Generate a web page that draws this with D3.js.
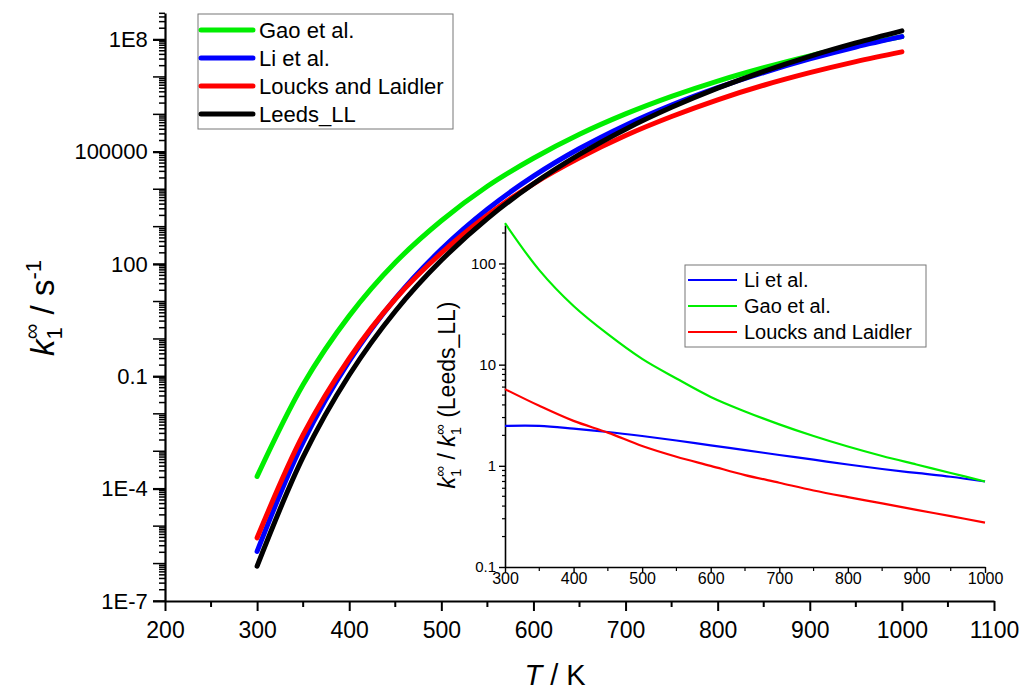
<!DOCTYPE html>
<html>
<head>
<meta charset="utf-8">
<script src="https://cdn.jsdelivr.net/npm/d3@7"></script>
<style>
body { margin: 0; background: #fff; }
text { font-family: "Liberation Sans", Arial, sans-serif; }
</style>
</head>
<body>
<svg id="main" width="1025" height="691"></svg>
<script>
// temperatures (K)
var temps = [300, 350, 400, 450, 500, 550, 600, 650, 700, 750, 800, 850, 900, 950, 1000];
// main panel: k1 (s-1)
var gao = [2.13e-4, 0.0607, 4.14, 110, 1436, 12000, 6.72e4, 2.94e5, 1.03e6, 3.03e6, 7.75e6, 1.76e7, 3.66e7, 6.88e7, 1.19e8];
var li = [2.11e-6, 1.75e-3, 0.254, 11.9, 248, 2926, 2.23e4, 1.22e5, 5.15e5, 1.77e6, 5.15e6, 1.31e7, 3.02e7, 6.31e7, 1.19e8];
var loucks = [4.87e-6, 2.77e-3, 0.303, 11.7, 198, 2022, 1.40e4, 6.91e4, 2.73e5, 8.78e5, 2.45e6, 5.99e6, 1.30e7, 2.57e7, 4.68e7];
var leeds = [8.5e-7, 7.06e-4, 0.109, 5.5, 126, 1644, 1.40e4, 8.53e4, 4.02e5, 1.54e6, 5.0e6, 1.41e7, 3.55e7, 8.09e7, 1.70e8];
// inset: ratio to Leeds_LL
var ratioLi = [2.48, 2.48, 2.33, 2.16, 1.97, 1.78, 1.59, 1.43, 1.28, 1.15, 1.03, 0.93, 0.85, 0.78, 0.70];
var ratioGao = [250, 86, 38, 20, 11.4, 7.3, 4.8, 3.45, 2.57, 1.97, 1.55, 1.25, 1.03, 0.85, 0.70];
var ratioLoucks = [5.73, 3.92, 2.78, 2.13, 1.57, 1.23, 1.0, 0.81, 0.68, 0.57, 0.49, 0.425, 0.367, 0.318, 0.275];

var mainTicksX = [200, 300, 400, 500, 600, 700, 800, 900, 1000, 1100];
var mainTicksY = [1e-7, 1e-4, 0.1, 100, 1e5, 1e8];
var mainTickLabelsY = ["1E-7", "1E-4", "0.1", "100", "100000", "1E8"];
var insetTicksX = [300, 400, 500, 600, 700, 800, 900, 1000];
var insetTicksY = [0.1, 1, 10, 100];

var svg = d3.select("#main");

var x = d3.scaleLinear().domain([200, 1100]).range([165, 994]);
var y = d3.scaleLog().domain([1e-7, 5.1e8]).range([601, 13]);

var xi = d3.scaleLinear().domain([300, 1000]).range([505, 985]);
var yi = d3.scaleLog().domain([0.1, 240]).range([567, 225]);

// ---- main axes
var gx = svg.append("g").attr("transform", "translate(0,601)");
gx.call(d3.axisBottom(x).tickValues(mainTicksX).tickSize(10).tickSizeOuter(0).tickFormat(d3.format("d")));
gx.append("g").selectAll("line").data(d3.range(250, 1100, 100)).join("line")
	.attr("x1", d => x(d)).attr("x2", d => x(d)).attr("y1", 0).attr("y2", 6).attr("stroke", "#000").attr("stroke-width", 2);
gx.select(".domain").attr("stroke-width", 2.2);
gx.selectAll(".tick line").attr("stroke-width", 2);
gx.selectAll(".tick text").attr("font-size", 23).attr("font-family", "Liberation Sans").attr("dy", "1.05em");

var gy = svg.append("g").attr("transform", "translate(165,0)");
gy.call(d3.axisLeft(y).tickValues(mainTicksY).tickSize(12).tickSizeOuter(0)
	.tickFormat((d, i) => mainTickLabelsY[i]));
var minorY = [];
for (var e = -7; e <= 8; e++) {
	for (var m = 1; m <= 9; m++) {
		var v = m * Math.pow(10, e);
		if (v <= 5.1e8) minorY.push({v: v, len: m == 1 ? 12 : 6});
	}
}
gy.append("g").selectAll("line").data(minorY).join("line")
	.attr("x1", 0).attr("x2", d => -d.len).attr("y1", d => y(d.v)).attr("y2", d => y(d.v)).attr("stroke", "#000").attr("stroke-width", 1.5);
gy.select(".domain").attr("stroke-width", 2.2);
gy.selectAll(".tick line").attr("stroke-width", 2);
gy.selectAll(".tick text").attr("font-size", 22).attr("font-family", "Liberation Sans").attr("dx", "-0.1em");

// axis titles
var yt = svg.append("text").attr("transform", "translate(54,308) rotate(-90)").attr("text-anchor", "middle").attr("font-size", 33).attr("fill", "#000");
yt.append("tspan").attr("font-style", "italic").text("k");
yt.append("tspan").attr("font-size", 22).attr("dy", 8).text("1");
yt.append("tspan").attr("font-size", 22).attr("dx", -12).attr("dy", -23).text("\u221E");
yt.append("tspan").attr("dy", 15).text(" / s");
yt.append("tspan").attr("font-size", 22).attr("dy", -13).text("-1");

var xt = svg.append("text").attr("x", 555).attr("y", 685).attr("text-anchor", "middle").attr("font-size", 29).attr("fill", "#000");
xt.append("tspan").attr("font-style", "italic").text("T");
xt.append("tspan").text(" / K");

// ---- main curves
var mainSeries = [
	{name: "Gao et al.", color: "#00ee00", vals: gao},
	{name: "Li et al.", color: "#0000ff", vals: li},
	{name: "Loucks and Laidler", color: "#ff0000", vals: loucks},
	{name: "Leeds_LL", color: "#000000", vals: leeds}
];
var line = d3.line().x(d => x(d[0])).y(d => y(d[1])).curve(d3.curveCatmullRom);
svg.append("g").selectAll("path").data(mainSeries).join("path")
	.attr("d", s => line(temps.map((t, i) => [t, s.vals[i]])))
	.attr("fill", "none").attr("stroke", s => s.color).attr("stroke-width", 5).attr("stroke-linecap", "round");

// main legend
var leg = svg.append("g");
leg.append("rect").attr("x", 198).attr("y", 14).attr("width", 255).attr("height", 115).attr("fill", "#fff").attr("stroke", "#777").attr("stroke-width", 1);
mainSeries.forEach(function(s, i) {
	var yy = 30 + i * 28;
	leg.append("line").attr("x1", 201).attr("x2", 253).attr("y1", yy).attr("y2", yy).attr("stroke", s.color).attr("stroke-width", 5).attr("stroke-linecap", "round");
	leg.append("text").attr("x", 259).attr("y", yy + 8).attr("font-size", 22).text(s.name);
});

// ---- inset
var ix = svg.append("g").attr("transform", "translate(0,567)");
ix.call(d3.axisBottom(xi).tickValues(insetTicksX).tickSize(6).tickSizeOuter(0).tickFormat(d3.format("d")));
ix.append("g").selectAll("line").data(d3.range(350, 1000, 100)).join("line")
	.attr("x1", d => xi(d)).attr("x2", d => xi(d)).attr("y1", 0).attr("y2", 4).attr("stroke", "#000").attr("stroke-width", 1.2);
ix.select(".domain").attr("stroke-width", 1.6);
ix.selectAll(".tick line").attr("stroke-width", 1.4);
ix.selectAll(".tick text").attr("font-size", 16).attr("font-family", "Liberation Sans").attr("dy", "0.5em");

var iy = svg.append("g").attr("transform", "translate(505,0)");
iy.call(d3.axisLeft(yi).tickValues(insetTicksY).tickSize(6).tickSizeOuter(0).tickFormat(d3.format("~g")));
var minorYi = [];
for (var e2 = -1; e2 <= 2; e2++) {
	for (var m2 = 2; m2 <= 9; m2++) {
		var v2 = m2 * Math.pow(10, e2);
		if (v2 <= 240) minorYi.push(v2);
	}
}
iy.append("g").selectAll("line").data(minorYi).join("line")
	.attr("x1", 0).attr("x2", -3).attr("y1", d => yi(d)).attr("y2", d => yi(d)).attr("stroke", "#000").attr("stroke-width", 1.2);
iy.select(".domain").attr("stroke-width", 1.6);
iy.selectAll(".tick line").attr("stroke-width", 1.4);
iy.selectAll(".tick text").attr("font-size", 15).attr("font-family", "Liberation Sans");

var it = svg.append("text").attr("transform", "translate(455,395) rotate(-90)").attr("text-anchor", "middle").attr("font-size", 23).attr("fill", "#000");
it.append("tspan").attr("font-style", "italic").text("k");
it.append("tspan").attr("font-size", 15).attr("dy", 6).text("1");
it.append("tspan").attr("font-size", 15).attr("dx", -8).attr("dy", -16).text("\u221E");
it.append("tspan").attr("dy", 10).text(" / ");
it.append("tspan").attr("font-style", "italic").text("k");
it.append("tspan").attr("font-size", 15).attr("dy", 6).text("1");
it.append("tspan").attr("font-size", 15).attr("dx", -8).attr("dy", -16).text("\u221E");
it.append("tspan").attr("dy", 10).text(" (Leeds_LL)");

var insetSeries = [
	{name: "Li et al.", color: "#0000ff", vals: ratioLi},
	{name: "Gao et al.", color: "#00ee00", vals: ratioGao},
	{name: "Loucks and Laidler", color: "#ff0000", vals: ratioLoucks}
];
var iline = d3.line().x(d => xi(d[0])).y(d => yi(d[1])).curve(d3.curveCatmullRom);
svg.append("g").selectAll("path").data(insetSeries).join("path")
	.attr("d", s => iline(temps.map((t, i) => [t, s.vals[i]])))
	.attr("fill", "none").attr("stroke", s => s.color).attr("stroke-width", 2.2);

var ileg = svg.append("g");
ileg.append("rect").attr("x", 685).attr("y", 265).attr("width", 241).attr("height", 82).attr("fill", "#fff").attr("stroke", "#777").attr("stroke-width", 1);
insetSeries.forEach(function(s, i) {
	var yy = 280 + i * 26;
	ileg.append("line").attr("x1", 688).attr("x2", 737).attr("y1", yy).attr("y2", yy).attr("stroke", s.color).attr("stroke-width", 2.2);
	ileg.append("text").attr("x", 744).attr("y", yy + 7).attr("font-size", 20).text(s.name);
});
</script>
</body>
</html>
